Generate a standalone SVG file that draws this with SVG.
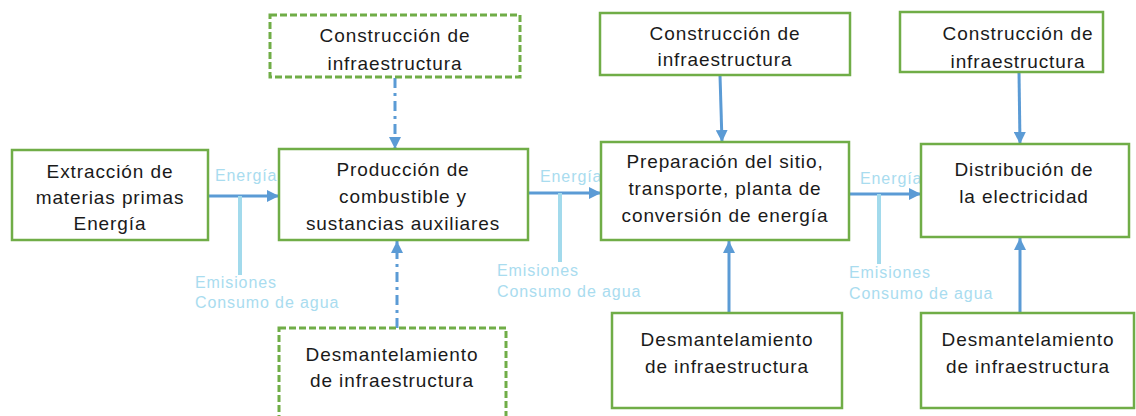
<svg xmlns="http://www.w3.org/2000/svg" width="1136" height="416" viewBox="0 0 1136 416">
<defs>
<marker id="ah" viewBox="0 0 10 10" refX="10" refY="5" markerWidth="4" markerHeight="4" markerUnits="strokeWidth" orient="auto">
<path d="M0,0 L10,5 L0,10 z" fill="#5b9bd5"/>
</marker>
</defs>
<style>
.box{fill:#fff;stroke:#70ad47;stroke-width:2.5}
.dbox{fill:#fff;stroke:#70ad47;stroke-width:3;stroke-dasharray:7 3}
.t{font-family:"Liberation Sans",Arial,sans-serif;font-size:19px;letter-spacing:0.9px;fill:#1a1a1a;text-anchor:middle}
.lab{font-family:"Liberation Sans",Arial,sans-serif;font-size:16px;letter-spacing:0.9px;fill:#a9dcef}
.arr{stroke:#5b9bd5;stroke-width:3;fill:none;marker-end:url(#ah)}
.darr{stroke:#5b9bd5;stroke-width:3;fill:none;stroke-dasharray:10 5 3 5;marker-end:url(#ah)}
.em{stroke:#a2daec;stroke-width:4;fill:none}
</style>
<rect width="1136" height="416" fill="#fff"/>
<g id="connectors">
<line class="arr" x1="208" y1="196" x2="279" y2="196"/>
<line class="em" x1="240" y1="196" x2="240" y2="275"/>
<line class="arr" x1="528" y1="193" x2="601" y2="193"/>
<line class="em" x1="560" y1="193" x2="560" y2="262"/>
<line class="arr" x1="849" y1="194" x2="921" y2="194"/>
<line class="em" x1="879" y1="194" x2="879" y2="264"/>
<line class="darr" x1="395" y1="78" x2="395" y2="149"/>
<line class="darr" x1="397" y1="328" x2="397" y2="241"/>
<line class="arr" x1="720" y1="75" x2="722" y2="142"/>
<line class="arr" x1="729" y1="313" x2="729" y2="241"/>
<line class="arr" x1="1019" y1="72" x2="1020" y2="144"/>
<line class="arr" x1="1020" y1="313" x2="1020" y2="238"/>
<text class="lab" x="215" y="181">Energía</text>
<text class="lab" x="195" y="288">Emisiones</text>
<text class="lab" x="195" y="308">Consumo de agua</text>
<text class="lab" x="540" y="182">Energía</text>
<text class="lab" x="497" y="276">Emisiones</text>
<text class="lab" x="497" y="297">Consumo de agua</text>
<text class="lab" x="860" y="184">Energía</text>
<text class="lab" x="849" y="278">Emisiones</text>
<text class="lab" x="849" y="299">Consumo de agua</text>
</g>
<g id="n1">
<rect class="box" x="12" y="150" width="196" height="90"/>
<text class="t" x="110" y="178">Extracción de</text>
<text class="t" x="110" y="204">materias primas</text>
<text class="t" x="110" y="230">Energía</text>
</g>
<g id="n2">
<rect class="box" x="279" y="149" width="249" height="91"/>
<text class="t" x="403" y="176">Producción de</text>
<text class="t" x="403" y="203">combustible y</text>
<text class="t" x="403" y="230">sustancias auxiliares</text>
</g>
<g id="n3">
<rect class="box" x="601" y="142" width="248" height="98"/>
<text class="t" x="725" y="168">Preparación del sitio,</text>
<text class="t" x="725" y="195">transporte, planta de</text>
<text class="t" x="725" y="222">conversión de energía</text>
</g>
<g id="n4">
<rect class="box" x="921" y="144" width="208" height="93"/>
<text class="t" x="1024" y="176">Distribución de</text>
<text class="t" x="1024" y="203">la electricidad</text>
</g>
<g id="c2">
<rect class="dbox" x="270" y="15" width="250" height="62"/>
<text class="t" x="395" y="42">Construcción de</text>
<text class="t" x="395" y="70">infraestructura</text>
</g>
<g id="c3">
<rect class="box" x="600" y="13" width="250" height="62"/>
<text class="t" x="725" y="40">Construcción de</text>
<text class="t" x="725" y="66">infraestructura</text>
</g>
<g id="c4">
<rect class="box" x="900" y="12" width="203" height="60"/>
<text class="t" x="1018" y="40">Construcción de</text>
<text class="t" x="1018" y="68">infraestructura</text>
</g>
<g id="d2">
<rect class="dbox" x="279" y="328" width="227" height="100"/>
<text class="t" x="392" y="361">Desmantelamiento</text>
<text class="t" x="392" y="387">de infraestructura</text>
</g>
<g id="d3">
<rect class="box" x="612" y="313" width="230" height="95"/>
<text class="t" x="727" y="346">Desmantelamiento</text>
<text class="t" x="727" y="373">de infraestructura</text>
</g>
<g id="d4">
<rect class="box" x="921" y="313" width="213" height="95"/>
<text class="t" x="1028" y="346">Desmantelamiento</text>
<text class="t" x="1028" y="373">de infraestructura</text>
</g>
</svg>
